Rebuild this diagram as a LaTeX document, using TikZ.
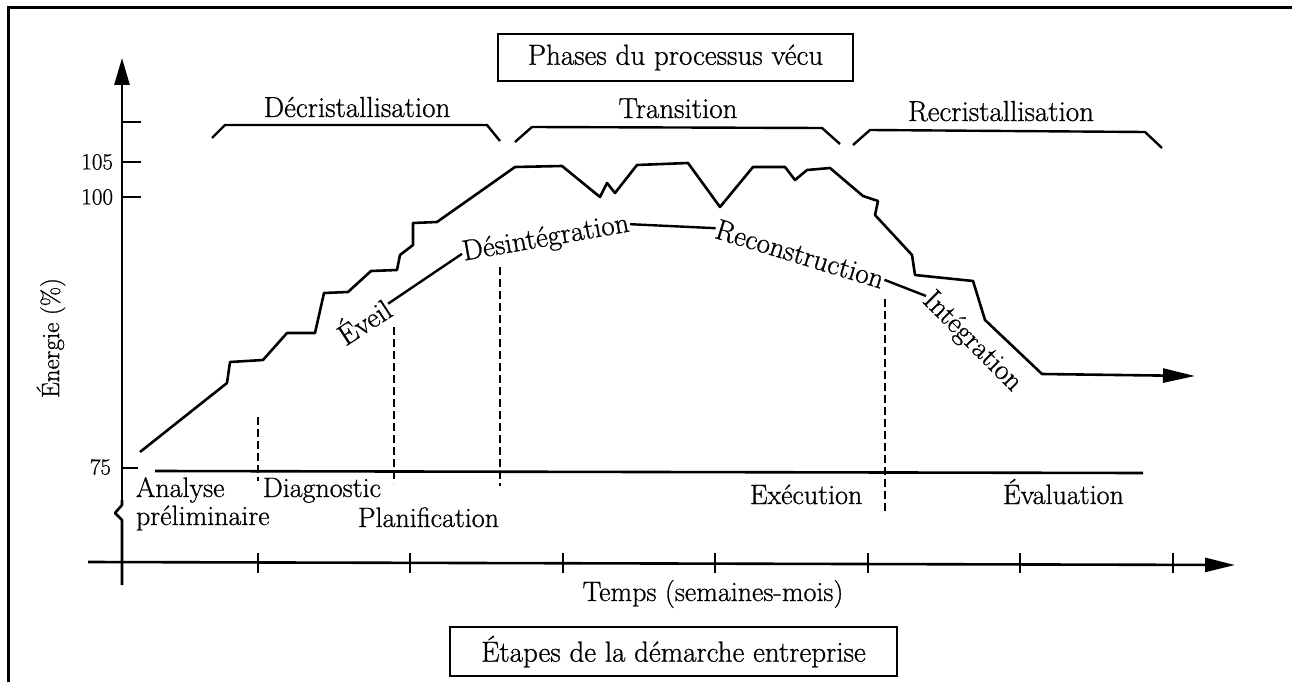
\documentclass[tikz,border=0pt]{standalone}
\usepackage{fontspec}
\setmainfont{Latin Modern Roman}[FakeBold=0.8]
\usetikzlibrary{arrows.meta}
\begin{document}
\begin{tikzpicture}[x=1pt,y=-1pt,
  every node/.style={inner sep=1pt, outer sep=0pt},
  lbl/.style={font=\fontsize{28}{32}\selectfont},
  numlbl/.style={font=\fontsize{23}{27}\selectfont, anchor=east},
  phaselbl/.style={font=\fontsize{29}{34}\selectfont, anchor=base},
  steplbl/.style={font=\fontsize{29}{34}\selectfont},
  titlebox/.style={draw, line width=2.4pt, font=\fontsize{29}{34}\selectfont},
  axis/.style={line width=2.6pt},
  axistick/.style={line width=2.4pt},
  bracket/.style={line width=2.4pt, line join=round},
  guide/.style={line width=2.4pt, dash pattern=on 8pt off 4pt},
  curve/.style={line width=2.6pt, line join=round},
  link/.style={line width=2.4pt},
  bigtip/.style={-{Triangle[length=#1pt, width=15pt]}},
]
\useasboundingbox (0,0) rectangle (1292,682);

% outer frame (top and left rules)
\draw[line width=3pt] (8,682) -- (8,8) -- (1292,8);

% energy axis with break below 75
\draw[axis, bigtip=27] (122,500) -- (122,58);
\draw[axis, line join=round] (122,500) -- (122,505) -- (115,513) -- (122,520) -- (122,585);
\foreach \yy in {122,162,197}
  \draw[axistick] (122,\yy) -- (141,\yy);
\draw[axistick] (122,468) -- (138,468);
\node[numlbl] (v105) at (114,162) {105};
\node[numlbl] (v100) at (114,197) {100};
\node[numlbl] (v75)  at (112,467) {75};
\node[font=\fontsize{25}{29}\selectfont, rotate=90] (ylab) at (51,338) {Énergie (\%)};

% 75 % reference line
\draw[axis] (155,471) -- (1143,473);

% time axis
\draw[axis, -{Triangle[length=30pt, width=14pt]}] (88,562) -- (1235,565);
\foreach \xx in {258,410,563,715,868,1020,1173}
  \draw[axistick] (\xx,553) -- (\xx,573);
\node[lbl, anchor=base] (temps) at (713,601) {Temps (semaines-mois)};

% step boundaries
\draw[guide] (258,417) -- (258,481);
\draw[guide] (394,327) -- (394,483);
\draw[guide] (500,267) -- (500,486);
\draw[guide] (885,299) -- (885,513);

% step names
\node[lbl, anchor=base west] (analyse) at (135,497) {Analyse};
\node[lbl, anchor=base west] (prelim)  at (135,525) {préliminaire};
\node[lbl, anchor=base west] (diag)    at (262,497) {Diagnostic};
\node[lbl, anchor=base west] (planif)  at (357,527) {Planification};
\node[lbl, anchor=base west] (exec)    at (749,504) {Exécution};
\node[lbl, anchor=base west] (eval)    at (1002,504) {Évaluation};

% energy curve
\draw[curve, -{Triangle[length=32pt, width=14pt]}]
  (140,452) -- (227,383) -- (230,362) -- (263,360) -- (287,333) -- (315,333)
  -- (324,293) -- (348,292) -- (371,271) -- (397,270) -- (400,255) -- (413,245)
  -- (413,223) -- (437,222) -- (515,167) -- (562,166) -- (600,197) -- (607,183)
  -- (615,193) -- (637,165) -- (688,163) -- (720,207) -- (753,167) -- (785,167)
  -- (795,180) -- (807,170) -- (830,168) -- (863,196) -- (878,201) -- (875,215)
  -- (912,255) -- (915,275) -- (973,281) -- (985,320) -- (1042,374) -- (1195,376);

% phases of the lived process
\draw[bracket] (212,138) -- (225,125) -- (487,125) -- (500,141);
\draw[bracket] (515,142) -- (532,127) -- (822,128) -- (840,144);
\draw[bracket] (853,145) -- (870,130) -- (1145,132) -- (1162,148);
\node[phaselbl] (decri)  at (357,117) {Décristallisation};
\node[phaselbl] (trans)  at (678,118) {Transition};
\node[phaselbl] (recri)  at (1001,121) {Recristallisation};

% psychological stages along the curve
\node[steplbl, rotate=33]  (eveil)  at (363,320) {Éveil};
\node[steplbl, rotate=10]  (desint) at (546,239) {Désintégration};
\node[steplbl, rotate=-17] (recon)  at (800,254) {Reconstruction};
\node[steplbl, rotate=-45] (integ)  at (972,342) {Intégration};
\draw[link] (eveil.east) -- (desint.west);
\draw[link] (desint.east) -- (recon.west);
\draw[link] (recon.east) -- (integ.west);

% titles
\node[titlebox, minimum width=355pt, minimum height=47pt] (phases) at (675.5,57.5) {Phases du processus vécu};
\node[titlebox, minimum width=447pt, minimum height=49pt] (etapes) at (673.5,651.5) {Étapes de la démarche entreprise};
\end{tikzpicture}
\end{document}
